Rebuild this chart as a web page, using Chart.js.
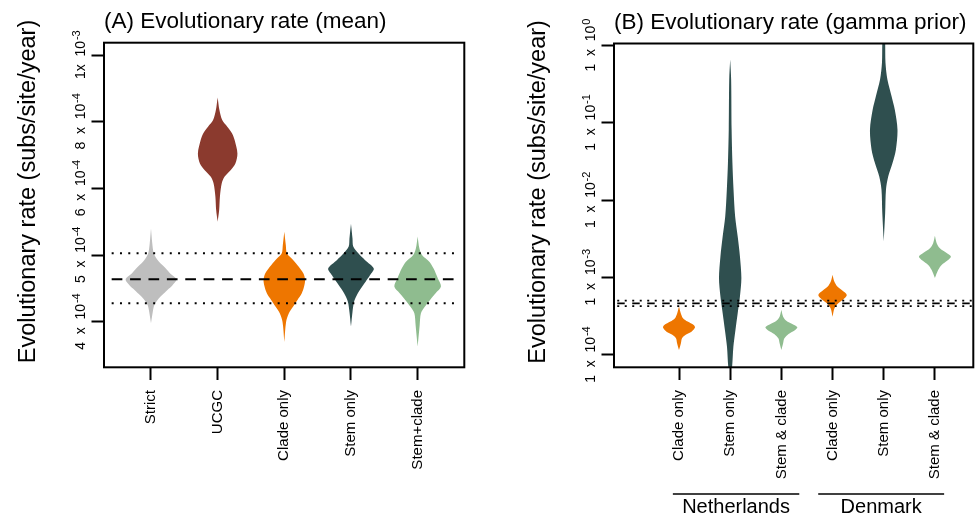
<!DOCTYPE html>
<html>
<head>
<meta charset="utf-8">
<script src="https://cdn.jsdelivr.net/npm/chart.js@4.4.1/dist/chart.umd.min.js"></script>
<style>
  body { margin: 0; background: #fff; }
  #wrap { position: relative; width: 975px; height: 516px; }
  canvas { position: absolute; top: 0; }
</style>
</head>
<body>
<div id="wrap">
  <canvas id="rateMean" width="487" height="516" style="left:0"></canvas>
  <canvas id="rateGamma" width="488" height="516" style="left:487px"></canvas>
</div>
<script>
// ---- Panel A: evolutionary rate (mean) ----
const categoriesA = ['Strict', 'UCGC', 'Clade only', 'Stem only', 'Stem+clade'];
const colorsA = ['#bebebe', '#8b3a2e', '#ee7600', '#2f4f4f', '#8fbc8f'];

// violin outlines: rate (top -> bottom) and relative width
const strictRate = [5.40e-4, 5.18e-4, 5.03e-4, 4.93e-4, 4.83e-4, 4.73e-4, 4.64e-4, 4.55e-4, 4.48e-4, 4.40e-4, 4.33e-4, 4.25e-4, 4.15e-4, 3.98e-4];
const strictDensity = [0, 0.05, 0.11, 0.26, 0.51, 0.75, 1, 0.85, 0.65, 0.43, 0.26, 0.13, 0.07, 0];
const ucgcRate = [8.73e-4, 8.35e-4, 8.05e-4, 7.85e-4, 7.65e-4, 7.45e-4, 7.05e-4, 6.75e-4, 6.55e-4, 6.35e-4, 6.15e-4, 5.88e-4, 5.68e-4, 5.50e-4];
const ucgcDensity = [0, 0.07, 0.18, 0.38, 0.57, 0.67, 0.78, 0.70, 0.51, 0.27, 0.16, 0.09, 0.06, 0];
const cladeRateA = [5.35e-4, 5.15e-4, 5.03e-4, 4.95e-4, 4.85e-4, 4.73e-4, 4.63e-4, 4.53e-4, 4.43e-4, 4.33e-4, 4.23e-4, 4.13e-4, 4.00e-4, 3.70e-4];
const cladeDensityA = [0, 0.06, 0.10, 0.29, 0.52, 0.75, 0.82, 0.78, 0.69, 0.52, 0.35, 0.18, 0.07, 0];
const stemRateA = [5.47e-4, 5.25e-4, 5.13e-4, 5.03e-4, 4.93e-4, 4.80e-4, 4.70e-4, 4.60e-4, 4.50e-4, 4.40e-4, 4.30e-4, 4.15e-4, 3.93e-4];
const stemDensityA = [0, 0.06, 0.09, 0.29, 0.55, 0.90, 0.75, 0.57, 0.39, 0.23, 0.12, 0.06, 0];
const stemCladeRateA = [5.28e-4, 5.10e-4, 5.00e-4, 4.90e-4, 4.80e-4, 4.65e-4, 4.53e-4, 4.43e-4, 4.33e-4, 4.23e-4, 4.13e-4, 3.95e-4, 3.63e-4];
const stemCladeDensityA = [0, 0.07, 0.18, 0.47, 0.63, 0.80, 0.92, 0.71, 0.49, 0.29, 0.13, 0.08, 0];

const tickValuesA = [4e-4, 5e-4, 6e-4, 8e-4, 1e-3];
const tickLabelsA = ['4  x  10^-4', '5  x  10^-4', '6  x  10^-4', '8  x  10^-4', '1x  10^-3'];

// strict clock mean rate and its interval (dashed / dotted lines)
const meanRate = 4.64e-4;
const lowerRate = 4.28e-4;
const upperRate = 5.03e-4;

// ---- Panel B: evolutionary rate (gamma prior) ----
const groupsB = ['Netherlands', 'Denmark'];
const categoriesB = ['Clade only', 'Stem only', 'Stem & clade', 'Clade only', 'Stem only', 'Stem & clade'];
const colorsB = ['#ee7600', '#2f4f4f', '#8fbc8f', '#ee7600', '#2f4f4f', '#8fbc8f'];

const nlCladeRate = [4.22e-4, 3.47e-4, 2.99e-4, 2.70e-4, 2.44e-4, 2.26e-4, 2.00e-4, 1.82e-4, 1.64e-4, 1.42e-4, 1.16e-4];
const nlCladeDensity = [0, 0.11, 0.25, 0.54, 0.92, 1, 0.78, 0.42, 0.19, 0.12, 0];
const nlStemRate = [0.659, 0.363, 0.0818, 0.0303, 0.0137, 0.00617, 0.00340, 0.00188, 0.000985, 0.000569, 0.000347, 0.000211, 0.000128, 7.06e-5, 4.75e-5];
const nlStemDensity = [0, 0.06, 0.09, 0.14, 0.21, 0.31, 0.47, 0.61, 0.70, 0.61, 0.47, 0.33, 0.20, 0.12, 0];
const nlStemCladeRate = [3.83e-4, 3.13e-4, 2.78e-4, 2.52e-4, 2.28e-4, 2.06e-4, 1.87e-4, 1.64e-4, 1.42e-4, 1.16e-4];
const nlStemCladeDensity = [0, 0.11, 0.31, 0.68, 1, 0.80, 0.45, 0.19, 0.11, 0];
const dkCladeRate = [1.087e-3, 8.89e-4, 7.66e-4, 6.80e-4, 5.98e-4, 5.26e-4, 4.67e-4, 4.03e-4, 3.13e-4];
const dkCladeDensity = [0, 0.11, 0.30, 0.61, 0.89, 0.68, 0.36, 0.12, 0];
const dkStemRate = [1.4, 1.08, 0.597, 0.363, 0.221, 0.1486, 0.0818, 0.0451, 0.0303, 0.0203, 0.0137, 0.00682, 0.00293];
const dkStemDensity = [0.06, 0.09, 0.11, 0.23, 0.49, 0.69, 0.86, 0.76, 0.55, 0.28, 0.14, 0.09, 0];
const dkStemCladeRate = [3.47e-3, 2.79e-3, 2.40e-3, 2.11e-3, 1.88e-3, 1.66e-3, 1.46e-3, 1.26e-3, 9.85e-4];
const dkStemCladeDensity = [0, 0.11, 0.31, 0.69, 1, 0.78, 0.42, 0.21, 0];

const tickValuesB = [1e-4, 1e-3, 1e-2, 1e-1, 1];
const tickLabelsB = ['1  x  10^-4', '1  x  10^-3', '1  x  10^-2', '1  x  10^-1', '1  x  10^0'];


const FONT = '"Liberation Sans", Arial, Helvetica, sans-serif';
Chart.defaults.font.family = FONT;
Chart.defaults.color = '#000';

// axis A is labelled at uneven steps, so place values piecewise between its labelled ticks
function toPos(v) {
    const t = tickValuesA;
    let i = 0;
    while (i < t.length - 2 && v > t[i + 1]) i++;
    return i + (v - t[i]) / (t[i + 1] - t[i]);
}

// outline: right side top->bottom, then left side back up
function violin(center, rate, density, halfWidth, color, mapY) {
    const right = rate.map((r, i) => ({ x: center + density[i] * halfWidth, y: mapY(r) }));
    const left = rate.map((r, i) => ({ x: center - density[i] * halfWidth, y: mapY(r) })).reverse();
    return {
        data: right.concat(left),
        fill: 'shape',
        backgroundColor: color,
        borderWidth: 0,
        pointRadius: 0,
        tension: 0.3,
        order: 1
    };
}

function refLine(value, x0, x1, dash, width) {
    return {
        data: [{ x: x0, y: value }, { x: x1, y: value }],
        borderColor: '#000',
        borderWidth: width,
        borderDash: dash,
        pointRadius: 0,
        fill: false,
        tension: 0,
        order: 0
    };
}

// frame, rotated tick labels with raised exponents, y title, group brackets
const panelExtras = {
    id: 'panelExtras',
    afterDraw(chart, args, opts) {
        const { ctx, chartArea: a } = chart;
        const yScale = chart.scales.y;
        const xScale = chart.scales.x;
        ctx.save();
        ctx.strokeStyle = '#000';
        ctx.lineWidth = 2;
        ctx.strokeRect(a.left, a.top, a.right - a.left, a.bottom - a.top);

        ctx.fillStyle = '#000';
        const baseFont = '14px ' + FONT;
        const expFont = '11px ' + FONT;
        yScale.ticks.forEach((t, i) => {
            const parts = opts.tickLabels[i].split('^');
            const py = yScale.getPixelForValue(t.value);
            ctx.font = baseFont;
            const wb = ctx.measureText(parts[0]).width;
            ctx.font = expFont;
            const we = ctx.measureText(parts[1]).width;
            ctx.save();
            ctx.translate(a.left - 19.5, py);
            ctx.rotate(-Math.PI / 2);
            ctx.textAlign = 'left';
            ctx.textBaseline = 'alphabetic';
            const x0 = -(wb + we) / 2;
            ctx.font = baseFont;
            ctx.fillText(parts[0], x0, 0);
            ctx.font = expFont;
            ctx.fillText(parts[1], x0 + wb + 0.8, -4.2);
            ctx.restore();
        });

        ctx.save();
        ctx.translate(a.left - 75, (a.top + a.bottom) / 2 - 13.5);
        ctx.rotate(-Math.PI / 2);
        ctx.font = '23.5px ' + FONT;
        ctx.textAlign = 'center';
        ctx.textBaseline = 'middle';
        ctx.fillText(opts.yTitle, 0, 0);
        ctx.restore();

        if (opts.groups) {
            ctx.lineWidth = 1.7;
            ctx.font = '20px ' + FONT;
            ctx.textAlign = 'center';
            ctx.textBaseline = 'alphabetic';
            opts.groups.forEach(g => {
                const x0 = xScale.getPixelForValue(g.from);
                const x1 = xScale.getPixelForValue(g.to);
                const ly = chart.height - 22;
                ctx.beginPath();
                ctx.moveTo(x0, ly);
                ctx.lineTo(x1, ly);
                ctx.stroke();
                ctx.fillText(g.label, (x0 + x1) / 2, chart.height - 3.4);
            });
        }
        ctx.restore();
    }
};

function baseOptions(cfg) {
    return {
        responsive: false,
        animation: false,
        events: [],
        layout: { padding: { left: 0, right: cfg.padRight, top: 0, bottom: 0 } },
        plugins: {
            legend: { display: false },
            tooltip: { enabled: false },
            title: {
                display: true,
                text: cfg.title,
                align: 'start',
                fullSize: false,
                color: '#000',
                font: { size: 22.5, weight: 'normal', lineHeight: 1.2 },
                padding: cfg.titlePad
            },
            panelExtras: { tickLabels: cfg.tickLabels, yTitle: 'Evolutionary rate (subs/site/year)', groups: cfg.groups }
        },
        scales: {
            x: {
                type: 'linear',
                min: cfg.xRange[0],
                max: cfg.xRange[1],
                afterBuildTicks: s => { s.ticks = cfg.categories.map((c, i) => ({ value: i + 1 })); },
                afterFit: s => { s.height = 148.7; },
                ticks: {
                    autoSkip: false,
                    minRotation: 90,
                    maxRotation: 90,
                    padding: 10,
                    color: '#000',
                    font: { size: 15 },
                    callback: (v, i) => cfg.categories[i]
                },
                grid: { drawOnChartArea: false, tickLength: 12.7, tickWidth: 2, tickColor: '#000' },
                border: { display: false }
            },
            y: {
                type: cfg.yType,
                min: cfg.yRange[0],
                max: cfg.yRange[1],
                afterBuildTicks: s => { s.ticks = cfg.yTicks.map(v => ({ value: v })); },
                afterFit: s => { s.width = cfg.yWidth; },
                ticks: { display: false },
                grid: { drawOnChartArea: false, tickLength: 12.5, tickWidth: 2, tickColor: '#000' },
                border: { display: false }
            }
        }
    };
}

// Panel A chart
const halfWidthA = 0.38;
const violinsA = [
    [strictRate, strictDensity],
    [ucgcRate, ucgcDensity],
    [cladeRateA, cladeDensityA],
    [stemRateA, stemDensityA],
    [stemCladeRateA, stemCladeDensityA]
];
new Chart(document.getElementById('rateMean'), {
    type: 'line',
    data: {
        datasets: [
            refLine(toPos(meanRate), 0.41, 5.58, [10.7, 7.7], 2),
            refLine(toPos(lowerRate), 0.41, 5.58, [2, 6.3], 2),
            refLine(toPos(upperRate), 0.41, 5.58, [2, 6.3], 2)
        ].concat(violinsA.map((v, i) => violin(i + 1, v[0], v[1], halfWidthA, colorsA[i], toPos)))
    },
    options: baseOptions({
        title: '(A) Evolutionary rate (mean)',
        titlePad: { top: 8, bottom: 7.7 },
        padRight: 22.7,
        categories: categoriesA,
        xRange: [0.295, 5.70],
        yType: 'linear',
        yRange: [toPos(3.32e-4), toPos(1.037e-3)],
        yTicks: tickValuesA.map(toPos),
        yWidth: 104,
        tickLabels: tickLabelsA
    }),
    plugins: [panelExtras]
});

// Panel B chart
const halfWidthB = 0.3125;
const violinsB = [
    [nlCladeRate, nlCladeDensity],
    [nlStemRate, nlStemDensity],
    [nlStemCladeRate, nlStemCladeDensity],
    [dkCladeRate, dkCladeDensity],
    [dkStemRate, dkStemDensity],
    [dkStemCladeRate, dkStemCladeDensity]
];
new Chart(document.getElementById('rateGamma'), {
    type: 'line',
    data: {
        datasets: [
            refLine(meanRate, -0.5, 7, [7.5, 7.5], 1.7),
            refLine(lowerRate, -0.5, 7, [2, 5.5], 1.7),
            refLine(upperRate, -0.5, 7, [2, 5.5], 1.7)
        ].concat(violinsB.map((v, i) => violin(i + 1, v[0], v[1], halfWidthB, colorsB[i], r => r)))
    },
    options: baseOptions({
        title: '(B) Evolutionary rate (gamma prior)',
        titlePad: { top: 9.5, bottom: 7 },
        padRight: 1.7,
        categories: categoriesB,
        xRange: [-0.27, 6.75],
        yType: 'logarithmic',
        yRange: [6.93e-5, 1.062],
        yTicks: tickValuesB,
        yWidth: 127,
        tickLabels: tickLabelsB,
        groups: [
            { label: groupsB[0], from: 0.88, to: 3.35 },
            { label: groupsB[1], from: 3.72, to: 6.18 }
        ]
    }),
    plugins: [panelExtras]
});
</script>
</body>
</html>
